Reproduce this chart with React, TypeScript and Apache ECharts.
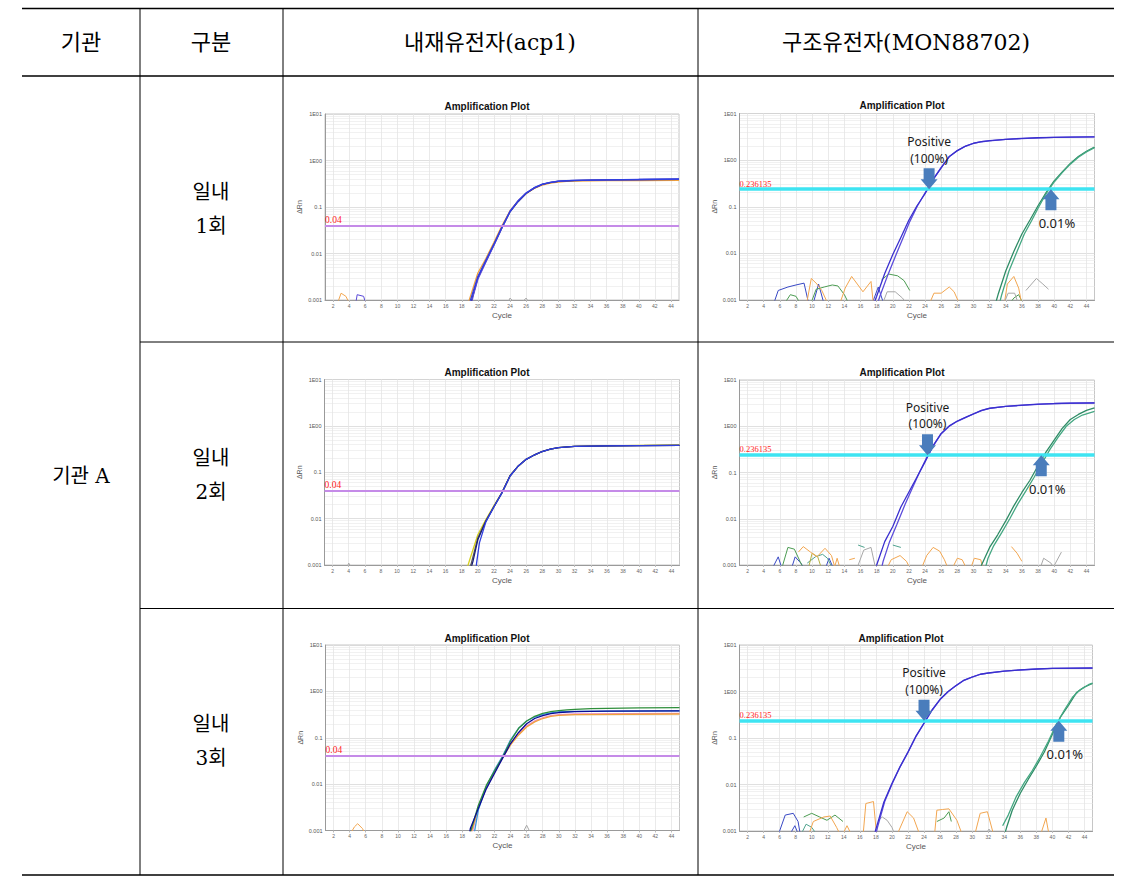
import React, { useEffect, useRef } from 'react';
import * as echarts from 'echarts';

// ---------- texts ----------
const headers = ['기관', '구분', '내재유전자(acp1)', '구조유전자(MON88702)'];
const orgLabel = '기관 A';
const runLabels = [['일내', '1회'], ['일내', '2회'], ['일내', '3회']];
const plotTitle = 'Amplification Plot';
const xAxisName = 'Cycle';
const yAxisName = 'ΔRn';
const positiveLabel = 'Positive\n(100%)';
const lowLabel = '0.01%';

// ---------- ticks ----------
const cycleTicks = [2, 4, 6, 8, 10, 12, 14, 16, 18, 20, 22, 24, 26, 28, 30, 32, 34, 36, 38, 40, 42, 44];
const yTickValues = [0.001, 0.01, 0.1, 1, 10];
const yTickLabels = ['0.001', '0.01', '0.1', '1E00', '1E01'];

// ---------- thresholds ----------
const acp1Threshold = 0.04;
const acp1ThresholdLabel = '0.04';
const monThreshold = 0.236135;
const monThresholdLabel = '0.236135';

// arrow cycles (MON88702 plots, rows 1..3)
const positiveArrowCycles = [24.5, 24.3, 24.0];
const lowArrowCycles = [39.6, 38.4, 40.8];

// ---------- acp1, run 1 ----------
const acp1R1Orange = [[18, 0.0003], [19, 0.0011], [20, 0.0038], [21, 0.0078], [22, 0.0175], [23, 0.04], [24, 0.083], [25, 0.135], [26, 0.195], [27, 0.25], [28, 0.295], [29, 0.325], [30, 0.345], [31, 0.355], [32, 0.36], [34, 0.365], [36, 0.368], [40, 0.37], [45, 0.372]];
const acp1R1Blue = [[18, 0.0003], [19, 0.0009], [20, 0.0032], [21, 0.0072], [22, 0.016], [23, 0.037], [24, 0.08], [25, 0.135], [26, 0.2], [27, 0.26], [28, 0.31], [29, 0.34], [30, 0.36], [31, 0.37], [32, 0.375], [34, 0.38], [36, 0.385], [40, 0.39], [45, 0.4]];
const acp1R1Navy = [[18.5, 0.0003], [19.3, 0.0011], [20, 0.003], [21, 0.0068], [22, 0.0155], [23, 0.036], [24, 0.079], [25, 0.13], [26, 0.195], [27, 0.255], [28, 0.305], [29, 0.335], [30, 0.355], [32, 0.37], [34, 0.378], [36, 0.382], [40, 0.386], [45, 0.392]];
const acp1R1Violet = [[18.7, 0.0003], [19.4, 0.0012], [20, 0.0028], [21, 0.0066], [22, 0.015], [23, 0.036], [24, 0.081], [25, 0.136], [26, 0.2], [27, 0.258], [28, 0.305], [29, 0.338], [30, 0.358], [32, 0.372], [34, 0.38], [36, 0.385], [40, 0.39], [45, 0.395]];
const acp1R1NoiseOrange = [[2.5, 0.0008], [3, 0.0014], [3.6, 0.0012], [4.1, 0.0008]];
const acp1R1NoiseBlue = [[4.8, 0.0008], [5, 0.0013], [5.8, 0.0012], [6.1, 0.0008]];
const acp1R1NoiseGray = [[23.6, 0.0008], [24, 0.0011], [24.5, 0.0009], [25.5, 0.0009], [26, 0.0011], [26.5, 0.0008]];

// ---------- acp1, run 2 ----------
const acp1R2Yellow = [[18.4, 0.0006], [19, 0.0013], [20, 0.0045], [21, 0.0095], [22, 0.019], [23, 0.037], [24, 0.085], [25, 0.135], [26, 0.19], [27, 0.235], [28, 0.28], [29, 0.315], [30, 0.34], [31, 0.352], [32, 0.36], [34, 0.365], [36, 0.37], [40, 0.378], [45, 0.39]];
const acp1R2Gray = [[18.7, 0.0006], [19.2, 0.0011], [20, 0.0038], [21, 0.009], [22, 0.018], [23, 0.036], [24, 0.083], [25, 0.135], [26, 0.19], [27, 0.235], [28, 0.28], [29, 0.315], [30, 0.34], [32, 0.36], [36, 0.37], [40, 0.375], [45, 0.38]];
const acp1R2Navy = [[18.9, 0.0006], [19.4, 0.0012], [20, 0.0035], [21, 0.0088], [22, 0.018], [23, 0.0365], [24, 0.084], [25, 0.136], [26, 0.19], [27, 0.236], [28, 0.282], [29, 0.316], [30, 0.34], [32, 0.36], [36, 0.37], [40, 0.375], [45, 0.38]];
const acp1R2Blue = [[19.7, 0.0006], [19.85, 0.0011], [20.2, 0.003], [21, 0.0085], [22, 0.018], [23, 0.036], [24, 0.083], [25, 0.135], [26, 0.19], [27, 0.235], [28, 0.28], [29, 0.315], [30, 0.34], [32, 0.36], [36, 0.37], [40, 0.375], [45, 0.38]];
const acp1R2NoiseGray = [[3.7, 0.0008], [4, 0.0011], [4.5, 0.0008]];

// ---------- acp1, run 3 ----------
const acp1R3Green = [[18.5, 0.0004], [19, 0.0009], [20, 0.0035], [21, 0.0095], [22, 0.019], [23, 0.038], [24, 0.085], [25, 0.16], [26, 0.23], [27, 0.29], [28, 0.335], [29, 0.365], [30, 0.385], [31, 0.4], [32, 0.41], [34, 0.425], [36, 0.43], [40, 0.44], [45, 0.445]];
const acp1R3Navy = [[18.6, 0.0004], [19, 0.0011], [20, 0.003], [21, 0.008], [22, 0.017], [23, 0.036], [24, 0.075], [25, 0.13], [26, 0.2], [27, 0.26], [28, 0.3], [29, 0.33], [30, 0.35], [32, 0.365], [36, 0.375], [45, 0.38]];
const acp1R3Cyan = [[19.2, 0.0004], [19.5, 0.0009], [20, 0.0028], [21, 0.009], [22, 0.02], [23, 0.04], [24, 0.09], [25, 0.16], [26, 0.23], [27, 0.28], [28, 0.32], [29, 0.345], [30, 0.36], [32, 0.37], [45, 0.38]];
const acp1R3Orange = [[18.6, 0.0004], [19.1, 0.0009], [20, 0.003], [21, 0.0085], [22, 0.018], [23, 0.037], [24, 0.07], [25, 0.115], [26, 0.17], [27, 0.22], [28, 0.26], [29, 0.29], [30, 0.305], [32, 0.315], [45, 0.325]];
const acp1R3Pink = [[18.8, 0.0004], [19.3, 0.001], [20, 0.0032], [21, 0.0088], [22, 0.0185], [23, 0.037], [24, 0.074], [25, 0.12], [26, 0.18], [27, 0.23], [28, 0.27], [29, 0.3], [30, 0.315], [32, 0.325], [45, 0.335]];
const acp1R3NoiseOrange = [[4, 0.0008], [4.6, 0.0012], [5, 0.0014], [5.6, 0.0011], [6, 0.0008]];
const acp1R3NoiseGray = [[25.4, 0.0008], [26, 0.0013], [26.6, 0.0008]];

// ---------- MON88702, run 1 ----------
const mon1PosA = [[17, 0.0004], [18, 0.0012], [19, 0.0037], [20, 0.0095], [21, 0.022], [22, 0.052], [23, 0.105], [24, 0.19], [25, 0.38], [26, 0.68], [27, 1.2], [28, 1.6], [29, 2.0], [30, 2.3], [31, 2.5], [32, 2.62], [34, 2.8], [36, 2.92], [38, 3.02], [40, 3.08], [42, 3.12], [45, 3.16]];
const mon1PosB = [[17.5, 0.0004], [18.4, 0.0012], [19.4, 0.0035], [20.3, 0.0085], [21.2, 0.02], [22.1, 0.048], [23, 0.1], [24, 0.2], [25, 0.39], [26, 0.7], [27, 1.18], [28, 1.6], [29, 1.98], [30, 2.28], [31, 2.48], [32, 2.6], [34, 2.78], [36, 2.9], [38, 3.0], [40, 3.07], [42, 3.11], [45, 3.15]];
const mon1LowA = [[32.6, 0.0007], [33.1, 0.0014], [34, 0.0042], [35, 0.011], [36, 0.026], [37, 0.052], [38, 0.105], [39, 0.2], [40, 0.36], [41, 0.56], [42, 0.85], [43, 1.2], [44, 1.55], [45, 1.9]];
const mon1LowB = [[33, 0.0006], [33.5, 0.0013], [34.4, 0.0042], [35.4, 0.011], [36.3, 0.026], [37.2, 0.05], [38.1, 0.1], [39, 0.19], [40, 0.34], [41, 0.54], [42, 0.82], [43, 1.15], [44, 1.5], [45, 1.85]];
const mon1NoiseBlue1 = [[5.2, 0.0008], [5.8, 0.0016], [7, 0.0019], [8, 0.0021], [9, 0.0023], [9.6, 0.0008]];
const mon1NoiseBlue2 = [[10.1, 0.0008], [10.8, 0.0022], [11.5, 0.0008]];
const mon1NoiseBlue3 = [[17.4, 0.0008], [18.2, 0.0019], [18.9, 0.0008]];
const mon1NoiseGreen1 = [[6.5, 0.0008], [7.3, 0.0013], [8, 0.0012], [8.6, 0.0008]];
const mon1NoiseGreen2 = [[9.8, 0.0008], [10.5, 0.0017], [11.5, 0.0019], [12.5, 0.0021], [13.2, 0.002], [14, 0.0013], [14.6, 0.0008]];
const mon1NoiseGreen3 = [[18.6, 0.0027], [19.5, 0.0036], [20.6, 0.0033], [21.4, 0.0026], [22.1, 0.0016]];
const mon1NoiseGreen4 = [[34.4, 0.0008], [35, 0.0011], [35.6, 0.0013], [36.2, 0.0008]];
const mon1NoiseOrange1 = [[9.3, 0.0008], [9.9, 0.0029], [10.6, 0.0022], [11.2, 0.0016], [12, 0.0008]];
const mon1NoiseOrange2 = [[13.4, 0.0008], [14.1, 0.0018], [14.9, 0.0032], [15.6, 0.0022], [16.3, 0.0015], [17.3, 0.0025], [17.6, 0.0008]];
const mon1NoiseOrange3 = [[24.5, 0.0008], [25.1, 0.0014], [26, 0.0014], [27, 0.0019], [27.6, 0.0015], [28.3, 0.0008]];
const mon1NoiseOrange4 = [[33.8, 0.0008], [34.2, 0.0022], [35, 0.0032], [35.6, 0.0018], [36, 0.0008]];
const mon1NoiseGray1 = [[18.7, 0.0008], [19.3, 0.0015], [20.3, 0.0015], [21.2, 0.0011], [21.8, 0.0008]];
const mon1NoiseGray2 = [[33.7, 0.0008], [34.3, 0.0014], [35.1, 0.0014], [35.6, 0.0008]];
const mon1NoiseGray3 = [[36.5, 0.0016], [37.8, 0.0029], [38.6, 0.0022], [39.3, 0.0017]];

// ---------- MON88702, run 2 ----------
const mon2PosA = [[17.5, 0.0005], [18, 0.001], [19, 0.0032], [20, 0.0068], [21, 0.018], [22, 0.038], [23, 0.08], [24, 0.17], [25, 0.38], [26, 0.7], [27, 1.02], [28, 1.3], [29, 1.55], [30, 1.85], [31, 2.2], [32, 2.45], [34, 2.7], [36, 2.85], [38, 3.0], [40, 3.1], [42, 3.15], [45, 3.2]];
const mon2PosB = [[18.3, 0.0005], [18.8, 0.0012], [19.6, 0.0032], [20.5, 0.0075], [21.5, 0.02], [22.4, 0.045], [23.3, 0.1], [24.2, 0.21], [25, 0.37], [26, 0.69], [27, 1.0], [28, 1.28], [29, 1.54], [30, 1.84], [31, 2.18], [32, 2.43], [34, 2.68], [36, 2.84], [38, 2.98], [40, 3.08], [42, 3.14], [45, 3.18]];
const mon2LowA = [[30.5, 0.0005], [31, 0.001], [32, 0.0024], [33, 0.0045], [34, 0.009], [35, 0.019], [36, 0.037], [37, 0.068], [38, 0.14], [39, 0.28], [40, 0.5], [41, 0.9], [42, 1.4], [43, 1.8], [44, 2.2], [45, 2.5]];
const mon2LowB = [[31.5, 0.0009], [31.8, 0.0014], [32.5, 0.0026], [33.5, 0.005], [34.5, 0.01], [35.5, 0.021], [36.5, 0.04], [37.5, 0.078], [38.5, 0.16], [39.5, 0.32], [40.5, 0.58], [41.5, 1.0], [42.5, 1.4], [43.5, 1.75], [45, 2.1]];
const mon2NoiseBlue1 = [[5, 0.0008], [5.8, 0.0015], [6.3, 0.0008]];
const mon2NoiseBlue2 = [[7.4, 0.0008], [7.9, 0.0015], [8.6, 0.0011], [9.1, 0.0008]];
const mon2NoiseBlue3 = [[11.6, 0.0008], [12.1, 0.0014], [12.7, 0.0008]];
const mon2NoiseGreen1 = [[6.2, 0.0008], [7, 0.0024], [7.8, 0.0022], [8.5, 0.0012], [9, 0.0008]];
const mon2NoiseGreen2 = [[9.4, 0.0011], [10.4, 0.0015], [11.3, 0.0017], [11.9, 0.0014], [12.6, 0.0008]];
const mon2NoiseOlive = [[9.5, 0.0008], [10, 0.0018], [10.7, 0.0015], [11.2, 0.0008]];
const mon2NoiseOrange1 = [[8.3, 0.0019], [8.9, 0.0025], [9.8, 0.0019], [10.6, 0.0015], [11.6, 0.0023], [12.4, 0.0016], [12.9, 0.0008]];
const mon2NoiseOrange2 = [[12.7, 0.0008], [13.1, 0.0014], [13.5, 0.0008]];
const mon2NoiseOrange3 = [[14.6, 0.0013], [15.3, 0.0014]];
const mon2NoiseTeal1 = [[15.7, 0.0027], [16.5, 0.0024]];
const mon2NoiseTeal2 = [[20, 0.0027], [21, 0.0024]];
const mon2NoiseGray1 = [[15.5, 0.0008], [16.4, 0.0021], [17.3, 0.0024], [17.9, 0.0008]];
const mon2NoiseOrange4 = [[19.2, 0.0008], [19.8, 0.0013], [20.9, 0.0016], [21.7, 0.0012], [22.2, 0.0008]];
const mon2NoiseOrange5 = [[23.5, 0.0008], [24.2, 0.0016], [25, 0.0024], [25.8, 0.002], [26.4, 0.0013], [26.9, 0.0008]];
const mon2NoiseOrange6 = [[27.3, 0.0008], [28, 0.0014], [28.6, 0.0013], [29.2, 0.0008]];
const mon2NoiseOrange7 = [[29.6, 0.0008], [30.1, 0.0014], [30.9, 0.0013], [31.2, 0.0008]];
const mon2NoiseOrange8 = [[34.7, 0.0025], [35.4, 0.0018], [36, 0.0012]];
const mon2NoiseGray2 = [[38.2, 0.0008], [38.7, 0.0014], [39.6, 0.0011], [39.9, 0.0009], [40.9, 0.0019]];

// ---------- MON88702, run 3 ----------
const mon3PosA = [[17.5, 0.0005], [18, 0.0011], [19, 0.0042], [20, 0.0105], [21, 0.024], [22, 0.05], [23, 0.11], [24, 0.21], [25, 0.4], [26, 0.68], [27, 1.0], [28, 1.35], [29, 1.76], [30, 2.05], [31, 2.35], [32, 2.5], [34, 2.75], [36, 2.92], [38, 3.05], [40, 3.15], [45, 3.2]];
const mon3PosB = [[17.7, 0.0005], [18.2, 0.0012], [19.1, 0.0043], [20.1, 0.011], [21, 0.0235], [22, 0.049], [23, 0.108], [24, 0.205], [25, 0.395], [26, 0.67], [27, 0.99], [28, 1.34], [29, 1.74], [30, 2.04], [31, 2.33], [32, 2.49], [34, 2.74], [36, 2.9], [38, 3.04], [40, 3.14], [45, 3.19]];
const mon3LowA = [[34, 0.0008], [34.3, 0.0012], [35, 0.0028], [36, 0.0065], [37, 0.013], [38, 0.025], [39, 0.05], [40, 0.12], [41, 0.28], [42, 0.5], [43, 0.95], [44, 1.25], [45, 1.5]];
const mon3LowB = [[33.8, 0.0013], [34.5, 0.0022], [35.5, 0.0055], [36.5, 0.011], [37.5, 0.02], [38.5, 0.04], [39.5, 0.085], [40.5, 0.2], [41.5, 0.4], [42.5, 0.75], [43.5, 1.1], [44.5, 1.4], [45, 1.52]];
const mon3NoiseBlue1 = [[5.8, 0.0008], [6.7, 0.0022], [7.7, 0.0024], [8.3, 0.0016], [8.6, 0.0008]];
const mon3NoiseBlue2 = [[7.2, 0.0008], [7.9, 0.0013], [8.4, 0.0008]];
const mon3NoiseGreen1 = [[9, 0.002], [10, 0.0024], [11, 0.002], [11.9, 0.0017], [12.9, 0.0022], [13.9, 0.0016]];
const mon3NoiseGreen2 = [[8.6, 0.0008], [9.3, 0.0014], [10, 0.0012], [10.7, 0.0008]];
const mon3NoiseGreen3 = [[25.6, 0.0016], [26.5, 0.0019], [27.1, 0.0026], [27.4, 0.0016]];
const mon3NoiseOrange1 = [[9.6, 0.0008], [10.2, 0.0016], [11.5, 0.002], [12.3, 0.0021], [13.1, 0.0012], [13.6, 0.0008]];
const mon3NoiseOrange2 = [[13.8, 0.0008], [14.4, 0.0013], [15, 0.0008]];
const mon3NoiseOrange3 = [[16.4, 0.0008], [16.75, 0.0039], [17.7, 0.0043], [18.1, 0.0008]];
const mon3NoiseOrange4 = [[20.6, 0.0008], [21.9, 0.0026], [22.7, 0.0019], [23.5, 0.0008]];
const mon3NoiseOrange5 = [[25.3, 0.0008], [25.6, 0.0028], [26.3, 0.0029], [27.1, 0.003], [28.1, 0.0017], [28.8, 0.0008]];
const mon3NoiseOrange6 = [[30.3, 0.0008], [31, 0.0024], [31.9, 0.0026], [32.7, 0.0008]];
const mon3NoiseOrange7 = [[38.5, 0.0008], [39.2, 0.0019], [39.6, 0.0008]];
const mon3NoiseGray1 = [[18.3, 0.0017], [18.8, 0.002], [19.4, 0.0017], [20, 0.0012], [20.4, 0.0008]];
const mon3NoiseGray2 = [[31.6, 0.0008], [32.1, 0.0011], [32.6, 0.0008]];

// ---------- colours ----------
const C = {
  orange: '#f0a23c',
  blue: '#2f3fe0',
  navy: '#1c1f78',
  violet: '#5a4ad8',
  yellow: '#d6cf1e',
  gray: '#8a8a8a',
  green: '#2f8f3c',
  cyan: '#3a96dc',
  pink: '#ee8ec6',
  pos: '#3a2fcf',
  pos2: '#5c4ddb',
  low: '#2f8c66',
  low2: '#45a883',
  nBlue: '#3848c4',
  nGreen: '#4c9c52',
  nOrange: '#f2a650',
  nGray: '#a8a8a8',
  nTeal: '#4fa38e',
  nOlive: '#b5b040',
};

// ---------- layout ----------
const plotLayout = [
  { left: 325, top: 114, width: 354, height: 186, tx: 487, ty: 106 },
  { left: 739.5, top: 113.5, width: 355, height: 186.5, tx: 902, ty: 105 },
  { left: 324.5, top: 379.5, width: 355, height: 185.5, tx: 487, ty: 372 },
  { left: 739.5, top: 380, width: 355, height: 185, tx: 902, ty: 372 },
  { left: 325.5, top: 645, width: 354, height: 185.5, tx: 487, ty: 638 },
  { left: 739.5, top: 645, width: 353, height: 186, tx: 901, ty: 638 },
];

type Curve = { data: number[][]; color: string; width?: number };

const plotCurves: Curve[][] = [
  [
    { data: acp1R1NoiseOrange, color: C.nOrange, width: 1 },
    { data: acp1R1NoiseBlue, color: C.violet, width: 1 },
    { data: acp1R1NoiseGray, color: C.nGray, width: 1 },
    { data: acp1R1Orange, color: C.orange },
    { data: acp1R1Navy, color: C.navy },
    { data: acp1R1Violet, color: C.violet },
    { data: acp1R1Blue, color: C.blue },
  ],
  [
    { data: mon1NoiseBlue1, color: C.nBlue, width: 1 },
    { data: mon1NoiseBlue2, color: C.nBlue, width: 1 },
    { data: mon1NoiseBlue3, color: C.nBlue, width: 1 },
    { data: mon1NoiseGreen1, color: C.nGreen, width: 1 },
    { data: mon1NoiseGreen2, color: C.nGreen, width: 1 },
    { data: mon1NoiseGreen3, color: C.nGreen, width: 1 },
    { data: mon1NoiseGreen4, color: C.nGreen, width: 1 },
    { data: mon1NoiseOrange1, color: C.nOrange, width: 1 },
    { data: mon1NoiseOrange2, color: C.nOrange, width: 1 },
    { data: mon1NoiseOrange3, color: C.nOrange, width: 1 },
    { data: mon1NoiseOrange4, color: C.nOrange, width: 1 },
    { data: mon1NoiseGray1, color: C.nGray, width: 1 },
    { data: mon1NoiseGray2, color: C.nGray, width: 1 },
    { data: mon1NoiseGray3, color: C.nGray, width: 1 },
    { data: mon1LowA, color: C.low },
    { data: mon1LowB, color: C.low2 },
    { data: mon1PosB, color: C.pos2 },
    { data: mon1PosA, color: C.pos },
  ],
  [
    { data: acp1R2NoiseGray, color: C.nGray, width: 1 },
    { data: acp1R2Yellow, color: C.yellow },
    { data: acp1R2Gray, color: '#555555' },
    { data: acp1R2Navy, color: C.navy },
    { data: acp1R2Blue, color: C.blue },
  ],
  [
    { data: mon2NoiseBlue1, color: C.nBlue, width: 1 },
    { data: mon2NoiseBlue2, color: C.nBlue, width: 1 },
    { data: mon2NoiseBlue3, color: C.nBlue, width: 1 },
    { data: mon2NoiseGreen1, color: C.nGreen, width: 1 },
    { data: mon2NoiseGreen2, color: C.nTeal, width: 1 },
    { data: mon2NoiseOlive, color: C.nOlive, width: 1 },
    { data: mon2NoiseOrange1, color: C.nOrange, width: 1 },
    { data: mon2NoiseOrange2, color: C.nOrange, width: 1 },
    { data: mon2NoiseOrange3, color: C.nOrange, width: 1 },
    { data: mon2NoiseTeal1, color: C.nTeal, width: 1 },
    { data: mon2NoiseTeal2, color: C.nTeal, width: 1 },
    { data: mon2NoiseGray1, color: C.nGray, width: 1 },
    { data: mon2NoiseOrange4, color: C.nOrange, width: 1 },
    { data: mon2NoiseOrange5, color: C.nOrange, width: 1 },
    { data: mon2NoiseOrange6, color: C.nOrange, width: 1 },
    { data: mon2NoiseOrange7, color: C.nOrange, width: 1 },
    { data: mon2NoiseOrange8, color: C.nOrange, width: 1 },
    { data: mon2NoiseGray2, color: C.nGray, width: 1 },
    { data: mon2LowA, color: C.low },
    { data: mon2LowB, color: C.low2 },
    { data: mon2PosB, color: C.pos2 },
    { data: mon2PosA, color: C.pos },
  ],
  [
    { data: acp1R3NoiseOrange, color: C.nOrange, width: 1 },
    { data: acp1R3NoiseGray, color: C.nGray, width: 1 },
    { data: acp1R3Pink, color: C.pink },
    { data: acp1R3Orange, color: C.orange },
    { data: acp1R3Cyan, color: C.cyan },
    { data: acp1R3Green, color: C.green },
    { data: acp1R3Navy, color: '#0a0a96' },
  ],
  [
    { data: mon3NoiseBlue1, color: C.nBlue, width: 1 },
    { data: mon3NoiseBlue2, color: C.nBlue, width: 1 },
    { data: mon3NoiseGreen1, color: C.nGreen, width: 1 },
    { data: mon3NoiseGreen2, color: C.nTeal, width: 1 },
    { data: mon3NoiseGreen3, color: C.nGreen, width: 1 },
    { data: mon3NoiseOrange1, color: C.nOrange, width: 1 },
    { data: mon3NoiseOrange2, color: C.nOrange, width: 1 },
    { data: mon3NoiseOrange3, color: C.nOrange, width: 1 },
    { data: mon3NoiseOrange4, color: C.nOrange, width: 1 },
    { data: mon3NoiseOrange5, color: C.nOrange, width: 1 },
    { data: mon3NoiseOrange6, color: C.nOrange, width: 1 },
    { data: mon3NoiseOrange7, color: C.nOrange, width: 1 },
    { data: mon3NoiseGray1, color: C.nGray, width: 1 },
    { data: mon3NoiseGray2, color: C.nGray, width: 1 },
    { data: mon3LowA, color: C.low },
    { data: mon3LowB, color: C.low2 },
    { data: mon3PosB, color: C.pos2 },
    { data: mon3PosA, color: C.pos },
  ],
];

const ARROW_DOWN = 'path://M3,0L14,0L14,11L17,11L8.5,21L0,11L3,11Z';
const ARROW_UP = 'path://M8.5,0L17,10L14,10L14,21L3,21L3,10L0,10Z';
const ARROW_COLOR = '#4a7dbc';

const TABLE_FONT = '"DejaVu Serif", "Noto Sans CJK KR", serif';
const PLOT_FONT = '"Liberation Sans", Arial, sans-serif';
const NOTE_FONT = '"Noto Sans", "Open Sans", sans-serif';

function yLabel(v: number): string {
  const i = yTickValues.findIndex((t) => Math.abs(Math.log10(t) - Math.log10(v)) < 1e-6);
  return i >= 0 ? yTickLabels[i] : '';
}

function buildOption() {
  const grid: any[] = [];
  const xAxis: any[] = [];
  const yAxis: any[] = [];
  const series: any[] = [];
  const graphic: any[] = [];

  // table lines
  const hl = (y: number, x1: number, x2: number, w = 1) => ({
    type: 'line', shape: { x1, y1: y, x2, y2: y }, style: { stroke: '#000', lineWidth: w }, silent: true,
  });
  const vl = (x: number, y1: number, y2: number, w = 1) => ({
    type: 'line', shape: { x1: x, y1, x2: x, y2 }, style: { stroke: '#000', lineWidth: w }, silent: true,
  });
  graphic.push(hl(8.5, 22, 1114, 1.4));
  graphic.push(hl(76, 22, 1114, 1.3));
  graphic.push(hl(342, 140, 1114, 1));
  graphic.push(hl(608.5, 140, 1114, 1));
  graphic.push(hl(875, 22, 1114, 1.4));
  graphic.push(vl(140, 8, 875));
  graphic.push(vl(283, 8, 875));
  graphic.push(vl(698, 8, 875));

  const txt = (text: string, x: number, y: number, size: number, font = TABLE_FONT, weight = 'normal', color = '#000') => ({
    type: 'text',
    x,
    y,
    silent: true,
    style: {
      text, fill: color, fontSize: size, fontFamily: font, fontWeight: weight,
      align: 'center', verticalAlign: 'middle', textAlign: 'center', textVerticalAlign: 'middle',
    },
  });
  const headerX = [81, 211, 490, 906];
  headers.forEach((h, i) => graphic.push(txt(h, headerX[i], 42, 22)));
  graphic.push(txt(orgLabel, 81, 476, 20));
  runLabels.forEach((lines, r) => {
    const cy = 209 + r * 266;
    graphic.push(txt(lines[0], 211, cy - 17, 20));
    graphic.push(txt(lines[1], 211, cy + 17, 20));
  });

  plotLayout.forEach((L, i) => {
    const isMon = i % 2 === 1;
    graphic.push(txt(plotTitle, L.tx, L.ty, 10, PLOT_FONT, 'bold', '#111'));
    grid.push({
      left: L.left, top: L.top, width: L.width, height: L.height,
      show: true, borderColor: '#c6c6c6', borderWidth: 1, backgroundColor: '#fff',
    });
    xAxis.push({
      type: 'value', gridIndex: i, min: 1, max: 45,
      name: xAxisName, nameLocation: 'middle', nameGap: 11,
      nameTextStyle: { fontSize: 8, color: '#555555', fontFamily: PLOT_FONT },
      axisLine: { show: true, onZero: false, lineStyle: { color: '#9a9a9a', width: 1 } },
      axisTick: { show: true, length: 2, customValues: cycleTicks, lineStyle: { color: '#bbbbbb' } },
      axisLabel: { customValues: cycleTicks, fontSize: 5, color: '#666666', margin: 3, fontFamily: PLOT_FONT },
      splitLine: { show: true, lineStyle: { color: '#e4e4e4', width: 0.8 } },
    });
    yAxis.push({
      type: 'log', logBase: 10, gridIndex: i, min: 0.001, max: 10,
      name: yAxisName, nameLocation: 'middle', nameGap: 22, nameRotate: 90,
      nameTextStyle: { fontSize: 7, color: '#555555', fontFamily: PLOT_FONT },
      axisLine: { show: true, lineStyle: { color: '#9a9a9a', width: 1 } },
      axisTick: { show: false },
      axisLabel: { fontSize: 5.5, color: '#555555', margin: 3, fontFamily: PLOT_FONT, formatter: yLabel },
      splitLine: { show: true, lineStyle: { color: '#d8d8d8', width: 0.8 } },
      minorTick: { show: false, splitNumber: 9 },
      minorSplitLine: { show: true, lineStyle: { color: '#eeeeee', width: 0.8 } },
    });

    const curves = plotCurves[i];
    const row = Math.floor(i / 2);
    curves.forEach((c, k) => {
      const s: any = {
        type: 'line', xAxisIndex: i, yAxisIndex: i, data: c.data,
        showSymbol: false, symbol: 'none', silent: true, clip: true, z: 3,
        lineStyle: { color: c.color, width: c.width ?? 1.3 },
        itemStyle: { color: c.color },
      };
      if (k === 0) {
        s.markLine = {
          silent: true, symbol: ['none', 'none'], z: 5,
          lineStyle: {
            color: isMon ? '#3ee4f2' : '#c58be8', width: isMon ? 3.5 : 2, type: 'solid', opacity: 1,
          },
          label: {
            show: true, position: 'insideStartTop', distance: [0, 1],
            formatter: isMon ? monThresholdLabel : acp1ThresholdLabel,
            color: '#ff1e1e', fontSize: isMon ? 8.5 : 9.5, fontFamily: '"Liberation Serif", serif', padding: 0,
          },
          data: [{ yAxis: isMon ? monThreshold : acp1Threshold }],
        };
      }
      if (isMon && k === curves.length - 1) {
        s.markPoint = {
          silent: true, z: 6,
          data: [
            {
              coord: [positiveArrowCycles[row], monThreshold],
              symbol: ARROW_DOWN, symbolSize: [17, 21], symbolOffset: [0, -10.5], symbolKeepAspect: false,
              itemStyle: { color: ARROW_COLOR },
              label: {
                show: true, position: 'top', distance: 2, formatter: positiveLabel,
                fontSize: 12, lineHeight: 16.5, color: '#1a1a1a', fontFamily: NOTE_FONT, align: 'center',
              },
            },
            {
              coord: [lowArrowCycles[row], monThreshold],
              symbol: ARROW_UP, symbolSize: [17, 21], symbolOffset: [0, 10.5], symbolKeepAspect: false,
              itemStyle: { color: ARROW_COLOR },
              label: {
                show: true, position: 'bottom', distance: 6, offset: [6, 0], formatter: lowLabel,
                fontSize: 13, color: '#1a1a1a', fontFamily: NOTE_FONT,
              },
            },
          ],
        };
      }
      series.push(s);
    });
  });

  return {
    animation: false,
    backgroundColor: '#ffffff',
    grid, xAxis, yAxis, series, graphic,
  };
}

export default function App() {
  const ref = useRef<HTMLDivElement>(null);
  useEffect(() => {
    if (!ref.current) return;
    const chart = echarts.init(ref.current, null, { renderer: 'svg' });
    chart.setOption(buildOption() as any);
    return () => chart.dispose();
  }, []);
  return (
    <div
      ref={ref}
      style={{ position: 'absolute', left: 0, top: 0, width: 1130, height: 879, background: '#fff' }}
    />
  );
}
